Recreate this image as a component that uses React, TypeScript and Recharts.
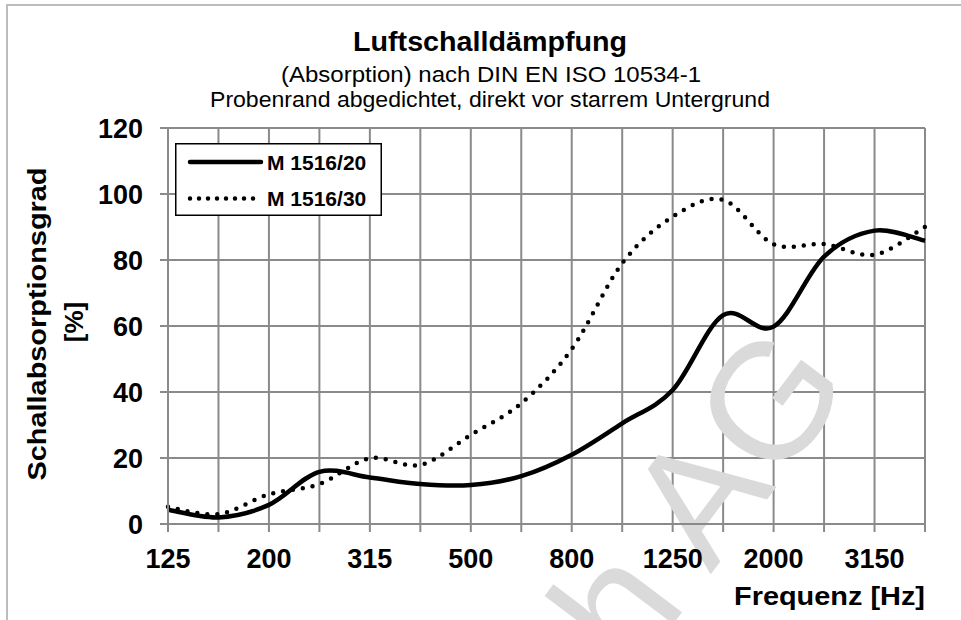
import React from 'react';
import { LineChart, Line, XAxis, YAxis, CartesianGrid, Legend, Customized } from 'recharts';

const frequencies = ['125', '160', '200', '250', '315', '400', '500', '630', '800', '1000', '1250', '1600', '2000', '2500', '3150', '4000'];
const m1516_20 = [4.3, 2.0, 5.8, 15.8, 14.1, 12.1, 11.8, 14.5, 21.0, 30.5, 40.6, 63.3, 59.8, 81.0, 88.9, 85.8];
const m1516_30 = [5.2, 3.0, 9.0, 12.1, 19.9, 17.9, 27.0, 36.6, 53.0, 79.0, 93.1, 98.2, 84.8, 84.8, 81.6, 90.0];
const yTicks = [0, 20, 40, 60, 80, 100, 120];
const seriesNames = ['M 1516/20', 'M 1516/30'];

const data = frequencies.map((f, i) => ({ f, m20: m1516_20[i], m30: m1516_30[i] }));

const FONT = '"Liberation Sans", Arial, sans-serif';
const GRID = '#8a8a8a';

// Excel-like smoothed line (Catmull-Rom through the data points)
const excelSmooth = (context: any) => {
  let pts: number[][] = [];
  return {
    areaStart() {},
    areaEnd() {},
    lineStart() { pts = []; },
    point(x: number, y: number) { pts.push([+x, +y]); },
    lineEnd() {
      const n = pts.length;
      if (!n) return;
      context.moveTo(pts[0][0], pts[0][1]);
      for (let i = 0; i < n - 1; i++) {
        const p0 = pts[Math.max(i - 1, 0)];
        const p1 = pts[i];
        const p2 = pts[i + 1];
        const p3 = pts[Math.min(i + 2, n - 1)];
        context.bezierCurveTo(
          p1[0] + (p2[0] - p0[0]) / 6, p1[1] + (p2[1] - p0[1]) / 6,
          p2[0] - (p3[0] - p1[0]) / 6, p2[1] - (p3[1] - p1[1]) / 6,
          p2[0], p2[1]
        );
      }
    },
  };
};

const XTick = (props: any) => {
  const { x, y, payload, index } = props;
  if (index % 2 !== 0) return null;
  return (
    <text x={x} y={y} dy="0.71em" textAnchor="middle" fontFamily={FONT} fontSize={27} fontWeight="bold" fill="#000">
      {payload.value}
    </text>
  );
};

const Watermark = () => (
  <text transform="translate(854,384) rotate(-53)" textAnchor="end" fontFamily={FONT} fontSize={165} fill="#dadada">
    h AG
  </text>
);

const Titles = () => (
  <g fontFamily={FONT} fill="#000">
    <text x={490} y={51} textAnchor="middle" fontSize={27.5} fontWeight="bold" textLength={274} lengthAdjust="spacingAndGlyphs">Luftschalldämpfung</text>
    <text x={491} y={82} textAnchor="middle" fontSize={22} textLength={420} lengthAdjust="spacingAndGlyphs">(Absorption) nach DIN EN ISO 10534-1</text>
    <text x={490} y={107} textAnchor="middle" fontSize={22} textLength={560} lengthAdjust="spacingAndGlyphs">Probenrand abgedichtet, direkt vor starrem Untergrund</text>
    <text x={925} y={605} textAnchor="end" fontSize={26} fontWeight="bold" textLength={191} lengthAdjust="spacingAndGlyphs">Frequenz [Hz]</text>
    <text transform="translate(46,324) rotate(-90)" textAnchor="middle" fontSize={26} fontWeight="bold" textLength={313} lengthAdjust="spacingAndGlyphs">Schallabsorptionsgrad</text>
    <text transform="translate(83,322) rotate(-90)" textAnchor="middle" fontSize={26} fontWeight="bold">[%]</text>
  </g>
);

const LegendBox = (props: any) => {
  const payload = props.payload || [];
  return (
    <svg width={207} height={73} style={{ display: 'block' }}>
      <rect x={0.75} y={0.75} width={205.5} height={71.5} fill="#fff" stroke="#000" strokeWidth={1.5} />
      {payload.map((p: any, i: number) => {
        const yy = 19 + i * 36.5;
        const dotted = i === 1;
        return (
          <g key={i}>
            <line x1={15} x2={dotted ? 82 : 86} y1={yy} y2={yy} stroke="#000" strokeWidth={dotted ? 4.5 : 4.5}
              strokeLinecap="round" strokeDasharray={dotted ? '0 9' : undefined} />
            <text x={92} y={yy} dy="0.36em" fontFamily={FONT} fontSize={21} fontWeight="bold" fill="#000">{p.value}</text>
          </g>
        );
      })}
    </svg>
  );
};

export default function App() {
  return (
    <div style={{ position: 'absolute', left: 0, top: 0, width: 961, height: 620, overflow: 'hidden', background: '#fff' }}>
      <div style={{ position: 'absolute', left: 6, top: 4, width: 1100, height: 1100, borderLeft: '2px solid #bcbcbc', borderTop: '2px solid #bcbcbc' }} />
      <LineChart width={961} height={620} data={data} margin={{ top: 128, right: 36, bottom: 66, left: 108 }}>
        <Customized component={<Watermark />} />
        <CartesianGrid stroke={GRID} strokeWidth={2} />
        <XAxis dataKey="f" interval={0} tick={<XTick />} tickSize={8} tickMargin={17} height={30}
          axisLine={{ stroke: GRID, strokeWidth: 2 }} tickLine={{ stroke: GRID, strokeWidth: 2 }} />
        <YAxis domain={[0, 120]} ticks={yTicks} width={60} tickSize={8} tickMargin={17}
          axisLine={{ stroke: GRID, strokeWidth: 2 }} tickLine={{ stroke: GRID, strokeWidth: 2 }}
          tick={{ fontSize: 27, fontWeight: 'bold', fill: '#000', fontFamily: FONT }} />
        <Line dataKey="m20" name={seriesNames[0]} type={excelSmooth as any} stroke="#000" strokeWidth={4.5}
          dot={false} activeDot={false} isAnimationActive={false} />
        <Line dataKey="m30" name={seriesNames[1]} type={excelSmooth as any} stroke="#000" strokeWidth={4.5}
          strokeDasharray="0 10" strokeLinecap="round" dot={false} activeDot={false} isAnimationActive={false} />
        <Legend layout="vertical" align="center" verticalAlign="middle" content={<LegendBox />}
          wrapperStyle={{ position: 'absolute', left: 175, top: 143, width: 207, height: 73 }} />
        <Customized component={<Titles />} />
      </LineChart>
    </div>
  );
}
